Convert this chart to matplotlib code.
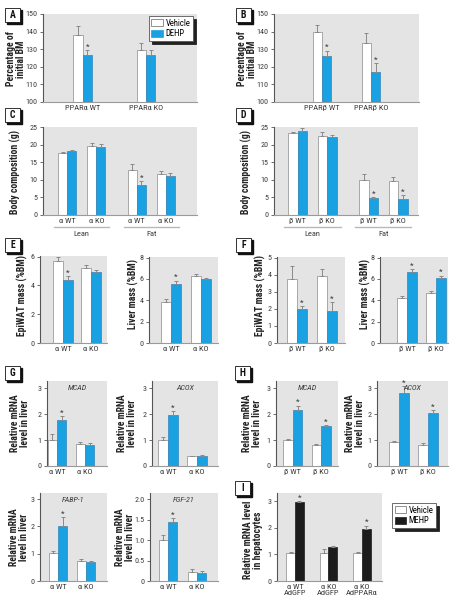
import numpy as np
import matplotlib
matplotlib.use("Agg")
import matplotlib.pyplot as plt
import matplotlib.transforms as mtransforms
from matplotlib import font_manager
from matplotlib.patches import Rectangle, Patch

# ---- data ----
# A / B: percentage of initial body mass
a_groups = ["PPARα WT", "PPARα KO"]
a_veh = [138.3, 129.4]
a_veh_err = [5.0, 4.3]
a_dehp = [126.9, 126.5]
a_dehp_err = [2.7, 2.9]
a_sig = [True, False]

b_groups = ["PPARβ WT", "PPARβ KO"]
b_veh = [140.0, 133.3]
b_veh_err = [3.5, 6.1]
b_dehp = [126.0, 117.1]
b_dehp_err = [3.2, 5.0]
b_sig = [True, True]

# C / D: body composition (lean, lean, fat, fat)
c_groups = ["α WT", "α KO", "α WT", "α KO"]
c_veh = [17.6, 19.5, 12.9, 11.7]
c_veh_err = [0.3, 1.0, 1.5, 0.9]
c_dehp = [18.1, 19.2, 8.6, 11.1]
c_dehp_err = [0.3, 1.0, 1.1, 0.9]
c_sig = [False, False, True, False]

d_groups = ["β WT", "β KO", "β WT", "β KO"]
d_veh = [23.3, 22.5, 9.9, 9.7]
d_veh_err = [0.3, 1.1, 1.8, 1.1]
d_dehp = [24.0, 22.2, 4.8, 4.5]
d_dehp_err = [0.6, 0.6, 0.3, 1.2]
d_sig = [False, False, True, True]

# E / F: tissue masses
alpha_groups = ["α WT", "α KO"]
beta_groups = ["β WT", "β KO"]
e_epi_veh = [5.68, 5.23]
e_epi_veh_err = [0.32, 0.20]
e_epi_dehp = [4.41, 4.95]
e_epi_dehp_err = [0.23, 0.14]
e_epi_sig = [True, False]
e_liv_veh = [3.88, 6.26]
e_liv_veh_err = [0.22, 0.18]
e_liv_dehp = [5.54, 5.96]
e_liv_dehp_err = [0.30, 0.14]
e_liv_sig = [True, False]

f_epi_veh = [3.78, 3.95]
f_epi_veh_err = [0.77, 0.41]
f_epi_dehp = [1.97, 1.87]
f_epi_dehp_err = [0.20, 0.51]
f_epi_sig = [True, True]
f_liv_veh = [4.18, 4.64]
f_liv_veh_err = [0.18, 0.21]
f_liv_dehp = [6.64, 6.10]
f_liv_dehp_err = [0.26, 0.20]
f_liv_sig = [True, True]

# G / H: hepatic mRNA
g_mcad_veh = [1.01, 0.86]
g_mcad_veh_err = [0.22, 0.05]
g_mcad_dehp = [1.77, 0.81]
g_mcad_dehp_err = [0.15, 0.09]
g_mcad_sig = [True, False]
g_acox_veh = [0.99, 0.38]
g_acox_veh_err = [0.12, 0.02]
g_acox_dehp = [1.96, 0.38]
g_acox_dehp_err = [0.15, 0.03]
g_acox_sig = [True, False]
g_fabp_veh = [1.02, 0.75]
g_fabp_veh_err = [0.09, 0.06]
g_fabp_dehp = [2.02, 0.71]
g_fabp_dehp_err = [0.32, 0.04]
g_fabp_sig = [True, False]
g_fgf_veh = [0.99, 0.21]
g_fgf_veh_err = [0.13, 0.08]
g_fgf_dehp = [1.44, 0.19]
g_fgf_dehp_err = [0.09, 0.06]
g_fgf_sig = [True, False]

h_mcad_veh = [1.01, 0.81]
h_mcad_veh_err = [0.04, 0.04]
h_mcad_dehp = [2.15, 1.52]
h_mcad_dehp_err = [0.17, 0.04]
h_mcad_sig = [True, True]
h_acox_veh = [0.92, 0.82]
h_acox_veh_err = [0.03, 0.07]
h_acox_dehp = [2.81, 2.03]
h_acox_dehp_err = [0.25, 0.12]
h_acox_sig = [True, True]

# I: hepatocytes
i_groups = ["α WT\nAdGFP", "α KO\nAdGFP", "α KO\nAdPPARα"]
i_veh = [1.04, 1.04, 1.04]
i_veh_err = [0.04, 0.16, 0.04]
i_mehp = [2.96, 1.27, 1.95]
i_mehp_err = [0.04, 0.05, 0.13]
i_sig = [True, False, True]

# ---- style ----
W, H = 460, 607
BLUE = "#19a1e2"
BLUE_EDGE = "#2e86bf"
BLACK = "#1c1c1c"
GREY_BG = "#e4e4e4"
EDGE = "#8a8a8a"
TXT = "#3a3a3a"

# the original uses a condensed face; take one if the machine has it
installed = {f.name for f in font_manager.fontManager.ttflist}
COND = next((n for n in ["Roboto Condensed", "Liberation Sans Narrow",
                         "Open Sans Condensed", "DejaVu Sans Condensed"]
             if n in installed), None)
if COND:
    plt.rcParams['font.family'] = [COND, 'Liberation Sans', 'DejaVu Sans']
    LAB_SIZE, TICK_SIZE, XT_SIZE = 7, 5.8, 6
else:
    plt.rcParams['font.family'] = ['Liberation Sans', 'DejaVu Sans']
    LAB_SIZE, TICK_SIZE, XT_SIZE = 5.8, 5.3, 5.6

fig = plt.figure(figsize=(W / 100, H / 100), dpi=100)


def px_axes(l, t, r, b, ylim, yticks, xlim, yticklabels=None):
    ax = fig.add_axes([l / W, 1 - b / H, (r - l) / W, (b - t) / H])
    ax.set_facecolor(GREY_BG)
    for s in ('top', 'right'):
        ax.spines[s].set_visible(False)
    ax.spines['left'].set_color('#555555')
    ax.spines['left'].set_linewidth(0.8)
    ax.spines['bottom'].set_color('#9a9a9a')
    ax.spines['bottom'].set_linewidth(0.8)
    ax.tick_params(axis='y', length=2, width=0.6, color='#555555',
                   labelsize=TICK_SIZE, labelcolor=TXT, pad=2)
    ax.tick_params(axis='x', length=0, labelsize=XT_SIZE, labelcolor=TXT, pad=2.5)
    ax.set_ylim(*ylim)
    ax.set_xlim(*xlim)
    ax.set_yticks(yticks)
    if yticklabels is not None:
        ax.set_yticklabels(yticklabels)
    return ax


def draw_pairs(ax, pos, veh, veh_err, trt, trt_err, sig, width,
               color=BLUE, edge=BLUE_EDGE):
    pos = np.asarray(pos, float)
    n = len(pos)
    ekw = dict(ecolor=EDGE, elinewidth=0.7, capsize=1.6, capthick=0.7)
    ax.bar(pos - width / 2, veh, width, color='white', edgecolor=EDGE,
           linewidth=0.5, yerr=[np.zeros(n), veh_err], error_kw=ekw, zorder=2)
    ax.bar(pos + width / 2, trt, width, color=color, edgecolor=edge,
           linewidth=0.5, yerr=[np.zeros(n), trt_err], error_kw=ekw, zorder=2)
    for x, v, e, s in zip(pos, trt, trt_err, sig):
        if s:
            ax.annotate('*', (x + width / 2, v + e), xytext=(0, 0.3),
                        textcoords='offset points', ha='center', va='bottom',
                        fontsize=6, color=TXT, annotation_clip=False)


def ylabel(x, y, text):
    fig.text(x / W, 1 - y / H, text, rotation=90, ha='center', va='center',
             fontsize=LAB_SIZE, fontweight='bold', color='#222222', linespacing=1.0)


def panel_letter(x, y, letter, w=15, h=14):
    fig.patches.append(Rectangle(((x + 1.6) / W, 1 - (y + h + 1.6) / H), w / W, h / H,
                                 transform=fig.transFigure, color='#111111'))
    fig.patches.append(Rectangle((x / W, 1 - (y + h) / H), w / W, h / H,
                                 transform=fig.transFigure, facecolor='white',
                                 edgecolor='#111111', linewidth=0.6))
    fig.text((x + w / 2) / W, 1 - (y + h / 2) / H, letter, ha='center', va='center',
             fontsize=7, fontweight='bold', color='#111111')


def gene(ax, name):
    ax.text(0.5, 0.92, name, transform=ax.transAxes, ha='center', va='center',
            fontsize=TICK_SIZE, style='italic', color=TXT)


def lean_fat(ax):
    trans = mtransforms.blended_transform_factory(ax.transData, ax.transAxes)
    for (x0, x1), lab in (((-0.45, 1.45), "Lean"), ((1.95, 3.85), "Fat")):
        ax.plot([x0, x1], [-0.136, -0.136], transform=trans, clip_on=False,
                color='#b8b8b8', lw=1.0)
        ax.text((x0 + x1) / 2, -0.215, lab, transform=trans, ha='center',
                va='center', fontsize=XT_SIZE, color=TXT)


def legend(ax, second, color, anchor, loc):
    leg = ax.legend(handles=[Patch(facecolor='white', edgecolor='#666666', lw=0.5, label='Vehicle'),
                             Patch(facecolor=color, edgecolor=color, lw=0.5, label=second)],
                    loc=loc, bbox_to_anchor=(anchor[0] / W, 1 - anchor[1] / H),
                    bbox_transform=fig.transFigure, fontsize=XT_SIZE + 0.2,
                    handlelength=1.3, handleheight=0.9, handletextpad=0.35,
                    borderpad=0.3, labelspacing=0.2, borderaxespad=0,
                    fancybox=False, framealpha=1, edgecolor='#555555',
                    shadow={'color': '#222222', 'alpha': 1})
    leg.get_frame().set_linewidth(0.6)


pos2 = np.arange(2)
pos4 = np.array([0, 1, 2.4, 3.4])

# ---- A ----
ax = px_axes(43, 14, 197, 102, (100, 150), range(100, 151, 10), (-0.627, 1.806))
draw_pairs(ax, pos2, a_veh, a_veh_err, a_dehp, a_dehp_err, a_sig, 0.147)
ax.set_xticks(pos2, a_groups)
legend(ax, 'DEHP', BLUE, (193, 16), 'upper right')
ylabel(16, 59, "Percentage of\ninitial BM")
panel_letter(5, 8, "A")

# ---- B ----
ax = px_axes(274, 14, 419, 102, (100, 150), range(100, 151, 10), (-0.98, 1.98))
draw_pairs(ax, pos2, b_veh, b_veh_err, b_dehp, b_dehp_err, b_sig, 0.19)
ax.set_xticks(pos2, b_groups)
ylabel(247, 59, "Percentage of\ninitial BM")
panel_letter(236, 8, "B")

# ---- C ----
ax = px_axes(43, 127, 197, 215, (0, 25), range(0, 26, 5), (-0.84, 4.48))
draw_pairs(ax, pos4, c_veh, c_veh_err, c_dehp, c_dehp_err, c_sig, 0.31)
ax.set_xticks(pos4, c_groups)
lean_fat(ax)
ylabel(15, 172, "Body composition (g)")
panel_letter(5, 108, "C")

# ---- D ----
ax = px_axes(274, 127, 418, 215, (0, 25), range(0, 26, 5), (-0.8, 4.07))
draw_pairs(ax, pos4, d_veh, d_veh_err, d_dehp, d_dehp_err, d_sig, 0.32)
ax.set_xticks(pos4, d_groups)
lean_fat(ax)
ylabel(246, 172, "Body composition (g)")
panel_letter(236, 108, "D")

# ---- E ----
ax = px_axes(40, 256, 107, 343, (0, 6.05), [0, 2, 4, 6], (-0.82, 1.57))
draw_pairs(ax, pos2, e_epi_veh, e_epi_veh_err, e_epi_dehp, e_epi_dehp_err, e_epi_sig, 0.34)
ax.set_xticks(pos2, alpha_groups)
ylabel(22, 296, "EpiWAT mass (%BM)")

ax = px_axes(149, 257, 218, 343, (0, 8.05), [0, 2, 4, 6, 8], (-0.73, 1.57))
draw_pairs(ax, pos2, e_liv_veh, e_liv_veh_err, e_liv_dehp, e_liv_dehp_err, e_liv_sig, 0.32)
ax.set_xticks(pos2, alpha_groups)
ylabel(133, 294, "Liver mass (%BM)")
panel_letter(5, 238, "E")

# ---- F ----
ax = px_axes(277, 257, 345, 343, (0, 5.05), range(0, 6), (-0.67, 1.6))
draw_pairs(ax, pos2, f_epi_veh, f_epi_veh_err, f_epi_dehp, f_epi_dehp_err, f_epi_sig, 0.33)
ax.set_xticks(pos2, beta_groups)
ylabel(260, 296, "EpiWAT mass (%BM)")

ax = px_axes(380, 257, 448, 343, (0, 8.05), [0, 2, 4, 6, 8], (-0.93, 1.41))
draw_pairs(ax, pos2, f_liv_veh, f_liv_veh_err, f_liv_dehp, f_liv_dehp_err, f_liv_sig, 0.33)
ax.set_xticks(pos2, beta_groups)
ylabel(365, 294, "Liver mass (%BM)")
panel_letter(236, 238, "F")

# ---- G ----
ax = px_axes(47, 381, 107, 466, (0, 3.27), range(0, 4), (-0.36, 1.79))
draw_pairs(ax, pos2, g_mcad_veh, g_mcad_veh_err, g_mcad_dehp, g_mcad_dehp_err, g_mcad_sig, 0.33)
ax.set_xticks(pos2, alpha_groups)
gene(ax, "MCAD")
ylabel(20, 423, "Relative mRNA\nlevel in liver")

ax = px_axes(152, 381, 218, 466, (0, 3.27), range(0, 4), (-0.55, 1.72))
draw_pairs(ax, pos2, g_acox_veh, g_acox_veh_err, g_acox_dehp, g_acox_dehp_err, g_acox_sig, 0.33)
ax.set_xticks(pos2, alpha_groups)
gene(ax, "ACOX")
ylabel(127, 423, "Relative mRNA\nlevel in liver")
panel_letter(5, 366, "G")

ax = px_axes(40, 493, 107, 581, (0, 3.22), range(0, 4), (-0.64, 1.75))
draw_pairs(ax, pos2, g_fabp_veh, g_fabp_veh_err, g_fabp_dehp, g_fabp_dehp_err, g_fabp_sig, 0.33)
ax.set_xticks(pos2, alpha_groups)
gene(ax, "FABP-1")
ylabel(19, 537, "Relative mRNA\nlevel in liver")

ax = px_axes(150, 493, 218, 581, (0, 2.15), [0, 0.5, 1.0, 1.5, 2.0], (-0.62, 1.72),
             yticklabels=["0", "0.5", "1.0", "1.5", "2.0"])
draw_pairs(ax, pos2, g_fgf_veh, g_fgf_veh_err, g_fgf_dehp, g_fgf_dehp_err, g_fgf_sig, 0.32)
ax.set_xticks(pos2, alpha_groups)
gene(ax, "FGF-21")
ylabel(125, 537, "Relative mRNA\nlevel in liver")

# ---- H ----
ax = px_axes(276, 381, 338, 466, (0, 3.27), range(0, 4), (-0.6, 1.6))
draw_pairs(ax, pos2, h_mcad_veh, h_mcad_veh_err, h_mcad_dehp, h_mcad_dehp_err, h_mcad_sig, 0.34)
ax.set_xticks(pos2, beta_groups)
gene(ax, "MCAD")
ylabel(252, 423, "Relative mRNA\nlevel in liver")

ax = px_axes(377, 381, 448, 466, (0, 3.27), range(0, 4), (-0.76, 1.69))
draw_pairs(ax, pos2, h_acox_veh, h_acox_veh_err, h_acox_dehp, h_acox_dehp_err, h_acox_sig, 0.33)
ax.set_xticks(pos2, beta_groups)
gene(ax, "ACOX")
ylabel(355, 423, "Relative mRNA\nlevel in liver")
panel_letter(235, 366, "H")

# ---- I ----
pos3 = np.arange(3)
ax = px_axes(277, 493, 382, 581, (0, 3.3), range(0, 4), (-0.54, 2.6))
draw_pairs(ax, pos3, i_veh, i_veh_err, i_mehp, i_mehp_err, i_sig, 0.26,
           color=BLACK, edge=BLACK)
ax.set_xticks(pos3, i_groups)
ax.tick_params(axis='x', pad=2)
for t in ax.get_xticklabels():
    t.set_linespacing(1.0)
legend(ax, 'MEHP', BLACK, (392, 503), 'upper left')
ylabel(253, 540, "Relative mRNA level\nin hepatocytes")
panel_letter(235, 481, "I")

fig.savefig("out.png", dpi=100)
